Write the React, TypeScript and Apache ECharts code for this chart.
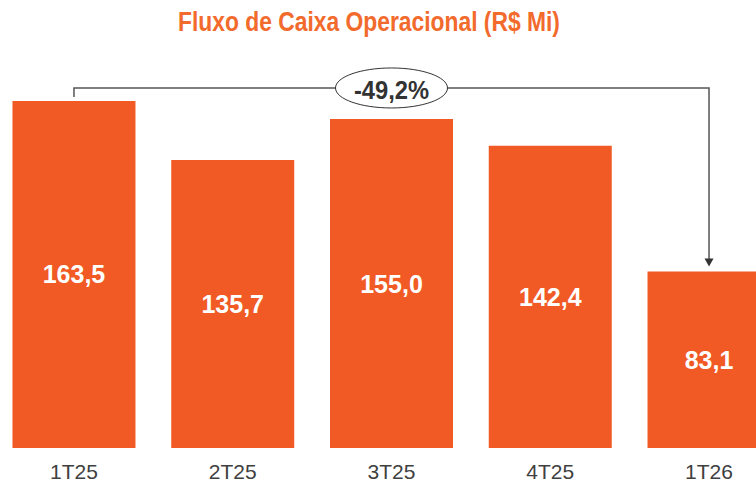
import React, { useEffect, useRef } from "react";
import * as echarts from "echarts";

const categories = ["1T25", "2T25", "3T25", "4T25", "1T26"];
const values = [163.5, 135.7, 155.0, 142.4, 83.1];
const changeLabel = "-49,2%";
const titleText = "Fluxo de Caixa Operacional (R$ Mi)";

const FONT = "'Liberation Sans', Arial, sans-serif";
const fmt = (v: number) => v.toFixed(1).replace(".", ",");

export default function App() {
  const ref = useRef<HTMLDivElement>(null);
  useEffect(() => {
    const chart = echarts.init(ref.current!, null, { renderer: "svg" });
    chart.setOption({
      animation: false,
      grid: { left: -5.4, right: -32.4, top: 23.5, bottom: 38, outerBoundsMode: "none" },
      xAxis: {
        type: "category",
        data: categories,
        axisLine: { show: false },
        axisTick: { show: false },
        axisLabel: { color: "#404040", fontSize: 21, fontFamily: FONT, margin: 13 },
      },
      yAxis: { type: "value", min: 0, max: 200, show: false, splitLine: { show: false } },
      series: [
        {
          type: "bar",
          data: values,
          barWidth: 123,
          itemStyle: { color: "#F15A24" },
          label: {
            show: true,
            position: "inside",
            formatter: (p: any) => fmt(p.value),
            color: "#ffffff",
            fontSize: 25,
            fontWeight: "bold",
            fontFamily: FONT,
          },
        },
      ],
    });
    const p1 = chart.convertToPixel({ seriesIndex: 0 }, [0, values[0]]) as number[];
    const p5 = chart.convertToPixel({ seriesIndex: 0 }, [4, values[4]]) as number[];
    const lineY = p1[1] - 13;
    const tipY = p5[1] - 5;
    const midX = (p1[0] + p5[0]) / 2;
    chart.setOption({
      graphic: [
        {
          type: "text",
          x: 178,
          y: 21.5,
          scaleX: 0.846,
          style: {
            text: titleText,
            fill: "#F26A2C",
            font: `bold 27px ${FONT}`,
            align: "left",
            verticalAlign: "middle",
          },
        },
        {
          type: "polyline",
          shape: { points: [[p1[0], p1[1] - 4], [p1[0], lineY], [p5[0], lineY], [p5[0], tipY - 6]] },
          style: { stroke: "#555555", lineWidth: 1.5, fill: "none" },
          z: 10,
        },
        {
          type: "polygon",
          shape: { points: [[p5[0] - 4.5, tipY - 8], [p5[0] + 4.5, tipY - 8], [p5[0], tipY]] },
          style: { fill: "#333333" },
          z: 10,
        },
        {
          type: "ellipse",
          shape: { cx: midX, cy: lineY, rx: 56, ry: 20 },
          style: { fill: "#ffffff", stroke: "#333333", lineWidth: 1 },
          z: 11,
        },
        {
          type: "text",
          x: midX,
          y: lineY + 2,
          scaleX: 0.95,
          style: {
            text: changeLabel,
            fill: "#333333",
            font: `bold 25px ${FONT}`,
            align: "center",
            verticalAlign: "middle",
          },
          z: 12,
        },
      ],
    });
    return () => chart.dispose();
  }, []);
  return (
    <div
      ref={ref}
      style={{ position: "fixed", left: 0, top: 0, width: 756, height: 486, background: "#fff" }}
    />
  );
}
